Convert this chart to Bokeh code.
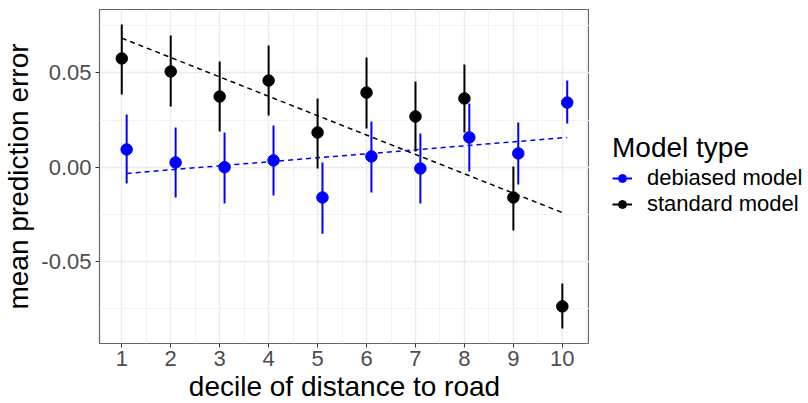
from bokeh.plotting import figure
from bokeh.layouts import row
from bokeh.models import (Legend, LegendItem, FixedTicker, NumeralTickFormatter,
                          ColumnDataSource, Range1d)
from bokeh.embed import file_html
from bokeh.resources import INLINE

# ---- data ----
deciles = [1, 2, 3, 4, 5, 6, 7, 8, 9, 10]
dodge = 0.1  # debiased points are drawn slightly to the right

standard_mean = [0.0577, 0.0508, 0.0375, 0.0460, 0.0184, 0.0396, 0.0269, 0.0365, -0.0161, -0.0739]
standard_lo   = [0.0386, 0.0322, 0.0189, 0.0274, -0.0007, 0.0205, 0.0083, 0.0184, -0.0336, -0.0856]
standard_hi   = [0.0757, 0.0699, 0.0561, 0.0646, 0.0365, 0.0582, 0.0455, 0.0545, 0.0004, -0.0617]

debiased_mean = [0.0094, 0.0025, 0.0000, 0.0036, -0.0161, 0.0057, -0.0007, 0.0158, 0.0073, 0.0343]
debiased_lo   = [-0.0087, -0.0161, -0.0193, -0.0150, -0.0354, -0.0134, -0.0193, -0.0023, -0.0092, 0.0232]
debiased_hi   = [0.0280, 0.0211, 0.0184, 0.0221, 0.0025, 0.0243, 0.0179, 0.0338, 0.0237, 0.0460]

# linear trend endpoints (x = first/last decile)
standard_trend_x = [1, 10]
standard_trend_y = [0.0685, -0.0241]
debiased_trend_x = [1.1, 10.1]
debiased_trend_y = [-0.0033, 0.0158]

x_ticks = [1, 2, 3, 4, 5, 6, 7, 8, 9, 10]
x_minor = [1.5, 2.5, 3.5, 4.5, 5.5, 6.5, 7.5, 8.5, 9.5, 10.5]
y_ticks = [-0.05, 0.0, 0.05]
y_minor = [-0.075, -0.025, 0.025, 0.075]

series_labels = ["debiased model", "standard model"]
legend_title = "Model type"

FONT = "Liberation Sans"
BLUE = "#0000FF"
BLACK = "#000000"

p = figure(frame_width=490, frame_height=334,
           x_range=Range1d(0.545, 10.555), y_range=Range1d(-0.0936, 0.0837),
           output_backend="svg", toolbar_location=None,
           min_border_left=91, min_border_right=0,
           min_border_top=9, min_border_bottom=60)

p.background_fill_color = "white"
p.outline_line_color = "#666666"
p.outline_line_width = 1.2

# grids
p.xaxis.ticker = FixedTicker(ticks=x_ticks, minor_ticks=x_minor)
p.yaxis.ticker = FixedTicker(ticks=y_ticks, minor_ticks=y_minor)
p.yaxis.formatter = NumeralTickFormatter(format="0.00")
for g in (p.xgrid, p.ygrid):
    g.grid_line_color = "#EBEBEB"
    g.grid_line_width = 1.5
    g.minor_grid_line_color = "#F3F3F3"
    g.minor_grid_line_width = 1

# axes
for ax in (p.xaxis, p.yaxis):
    ax.axis_line_color = None
    ax.major_tick_line_color = "#333333"
    ax.major_tick_line_width = 1
    ax.major_tick_out = 4
    ax.major_tick_in = 0
    ax.minor_tick_line_color = None
    ax.major_label_text_font = FONT
    ax.major_label_text_font_size = "22px"
    ax.major_label_text_color = "#4D4D4D"
    ax.axis_label_text_font = FONT
    ax.axis_label_text_font_size = "28px"
    ax.axis_label_text_font_style = "normal"
    ax.axis_label_text_color = "black"
p.xaxis.axis_label = "decile of distance to road"
p.yaxis.axis_label = "mean prediction error"
p.xaxis.major_label_standoff = 3
p.xaxis.axis_label_standoff = 2
p.yaxis.major_label_standoff = 4
p.yaxis.axis_label_standoff = 4

# sources
std_src = ColumnDataSource(dict(x=deciles, y=standard_mean, lo=standard_lo, hi=standard_hi))
deb_src = ColumnDataSource(dict(x=[d + dodge for d in deciles], y=debiased_mean,
                                lo=debiased_lo, hi=debiased_hi))

# trend lines
p.line(standard_trend_x, standard_trend_y, line_color=BLACK,
       line_width=1.5, line_dash="5 4")
p.line(debiased_trend_x, debiased_trend_y, line_color=BLUE,
       line_width=1.5, line_dash="5 4")

# error bars + points
p.segment(x0="x", y0="lo", x1="x", y1="hi", source=deb_src,
          line_color=BLUE, line_width=2)
p.scatter(x="x", y="y", source=deb_src, size=11.5, fill_color=BLUE, line_color=BLUE)
p.segment(x0="x", y0="lo", x1="x", y1="hi", source=std_src,
          line_color=BLACK, line_width=2)
p.scatter(x="x", y="y", source=std_src, size=11.5, fill_color=BLACK, line_color=BLACK)

# ---- legend (separate strip to the right of the panel) ----
# the strip's ranges lie away from the data, so only the legend keys show
lg = figure(width=216, height=403, output_backend="svg", toolbar_location=None,
            x_range=Range1d(-3, -2), y_range=Range1d(-3, -2),
            x_axis_location=None, y_axis_location=None,
            min_border_left=0, min_border_right=0, min_border_top=0, min_border_bottom=0)
lg.outline_line_color = None
lg.xgrid.visible = False
lg.ygrid.visible = False
items = []
for lab, col, src in zip(series_labels, [BLUE, BLACK], [deb_src, std_src]):
    seg = lg.segment(x0="x", y0="lo", x1="x", y1="hi", source=src, line_color=col, line_width=2)
    pt = lg.scatter(x="x", y="y", source=src, fill_color=col, line_color=col)
    items.append(LegendItem(label=lab, renderers=[seg, pt]))

legend = Legend(items=items, location=(23, 125))
legend.title = legend_title
legend.title_text_font = FONT
legend.title_text_font_size = "28px"
legend.title_text_font_style = "normal"
legend.title_text_color = "black"
legend.title_standoff = 1
legend.label_text_font = FONT
legend.label_text_font_size = "22px"
legend.label_text_line_height = 1.0
legend.label_text_color = "black"
legend.label_standoff = 15
legend.label_height = 24
legend.glyph_height = 24
legend.glyph_width = 20
legend.spacing = 0
legend.padding = 0
legend.margin = 0
legend.border_line_color = None
legend.background_fill_alpha = 0
lg.add_layout(legend, "center")

layout = row(p, lg)
open("out.html", "w").write(file_html(layout, INLINE))
